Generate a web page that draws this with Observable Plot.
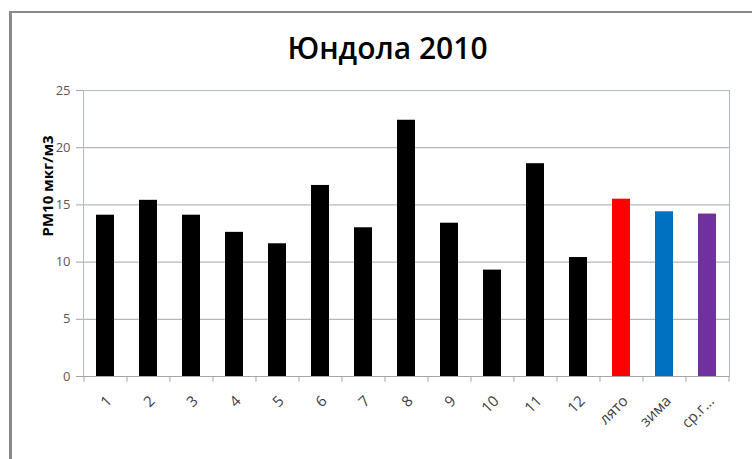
<!DOCTYPE html>
<html>
<head>
<meta charset="utf-8">
<script src="https://cdn.jsdelivr.net/npm/d3@7"></script>
<script src="https://cdn.jsdelivr.net/npm/@observablehq/plot@0.6"></script>
<style>
  html, body { margin: 0; padding: 0; background: #fff; }
  #wrap { position: relative; width: 752px; height: 459px; overflow: hidden; background: #fff; }
  #border { position: absolute; left: 9px; top: 11px; width: 800px; height: 500px;
            border-left: 3px solid #8a8a8a; border-top: 2px solid #8a8a8a; }
  #title { position: absolute; left: 0; top: 27px; width: 775px; text-align: center;
           font-family: "Open Sans", sans-serif; font-weight: 600; font-size: 30px; color: #000; }
  #chart { position: absolute; left: 0; top: 0; }
</style>
</head>
<body>
<div id="wrap">
  <div id="border"></div>
  <div id="title">Юндола 2010</div>
  <div id="chart"></div>
</div>
<script>
const categories = ["1","2","3","4","5","6","7","8","9","10","11","12","лято","зима","ср.г…"];
const values = [14.1, 15.4, 14.1, 12.6, 11.6, 16.7, 13.0, 22.4, 13.4, 9.3, 18.6, 10.4, 15.5, 14.4, 14.2];
const colors = ["#000","#000","#000","#000","#000","#000","#000","#000","#000","#000","#000","#000","#ff0000","#0070c0","#7030a0"];
const yTicks = [0, 5, 10, 15, 20, 25];

const data = categories.map((c, i) => ({cat: c, value: values[i], color: colors[i]}));

const W = 752, H = 459;
const mL = 83, mR = 23, mT = 90, mB = 83;
const band = (W - mL - mR) / categories.length;

const chart = Plot.plot({
  width: W,
  height: H,
  marginLeft: mL,
  marginRight: mR,
  marginTop: mT,
  marginBottom: mB,
  style: {fontFamily: "Open Sans, sans-serif", fontSize: "13px", color: "#595959", background: "transparent"},
  x: {domain: categories, paddingInner: 0.57, paddingOuter: 0.285, label: null, axis: null},
  y: {domain: [0, 25], label: null, axis: null},
  marks: [
    Plot.gridY(yTicks, {stroke: "#a6a6a6", strokeOpacity: 1}),
    Plot.frame({stroke: "#b3bcc4"}),
    Plot.axisY({ticks: yTicks, tickSize: 7, tickPadding: 6, stroke: "#a6a6a6", fill: "#595959", label: null}),
    Plot.text(["PM10 мкг/м3"], {frameAnchor: "left", dx: -35, dy: 3, rotate: -90, fontWeight: "bold", fontSize: 15, fill: "#000", text: d => d}),
    Plot.ruleY([0], {stroke: "#a6a6a6"}),
    Plot.ruleX(categories, {x: d => d, dx: -band / 2, y1: 0, y2: -0.5, stroke: "#a6a6a6"}),
    Plot.ruleX(categories.slice(-1), {x: d => d, dx: band / 2, y1: 0, y2: -0.5, stroke: "#a6a6a6"}),
    Plot.barY(data, {x: "cat", y: "value", fill: "color"}),
    Plot.text(categories, {x: d => d, frameAnchor: "bottom", dy: 22, dx: 4, rotate: -45, textAnchor: "end",
      lineAnchor: "middle", fill: "#404040", fontSize: 15, text: d => d})
  ]
});
document.getElementById("chart").appendChild(chart);
</script>
</body>
</html>
